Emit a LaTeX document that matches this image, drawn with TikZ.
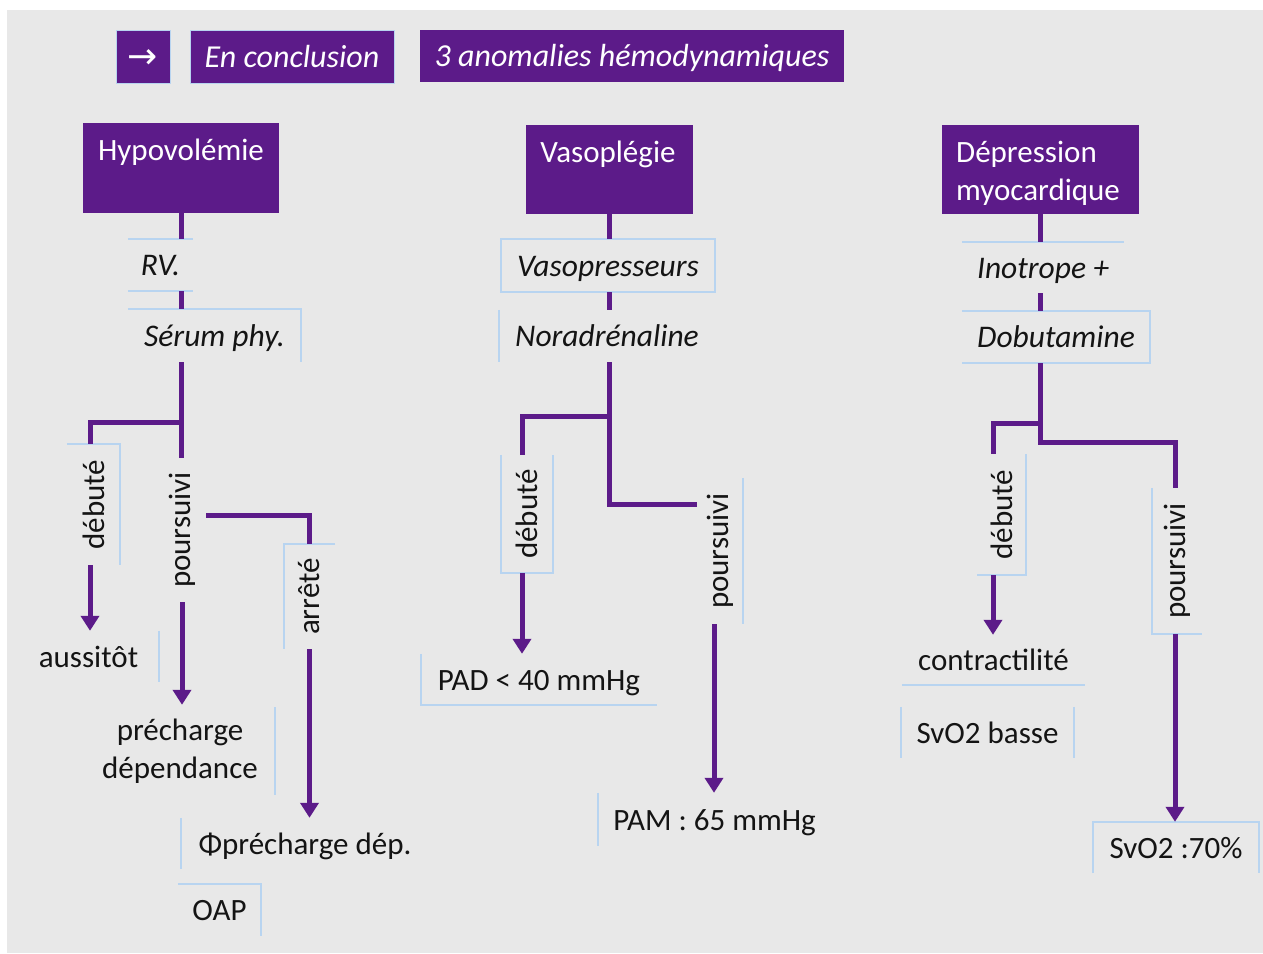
\documentclass[tikz,border=0pt]{standalone}
\usepackage{fontspec}
\usepackage{graphicx}
\setmainfont{Carlito}
\newfontfamily\symfont{DejaVu Sans}
\usetikzlibrary{arrows.meta}

\definecolor{violet1}{RGB}{92,27,137}
\definecolor{bgray}{RGB}{232,232,232}
\definecolor{lblue}{RGB}{184,212,240}
\definecolor{ink}{RGB}{20,20,20}

\tikzset{
  oneline/.style={text height=23pt, text depth=2pt},
  hdr/.style={fill=violet1, text=white, inner sep=0pt, oneline, font=\fontsize{32}{38}\selectfont\itshape},
  mainbox/.style={fill=violet1, inner sep=0pt},
  maintxt/.style={text=white, inner sep=0pt, font=\fontsize{31}{38}\selectfont},
  vlbl/.style={inner sep=0pt, text=ink, font=\fontsize{31}{38}\selectfont},
  lbl/.style={vlbl, oneline},
  lbli/.style={inner sep=0pt, oneline, text=ink, font=\fontsize{31.5}{38}\selectfont\itshape},
  lb/.style={draw=lblue, line width=1.5pt},
  conn/.style={draw=violet1, line width=5pt},
  arr/.style={conn, -{Triangle[width=18pt,length=15pt]}},
}

\begin{document}
\begin{tikzpicture}[x=1pt,y=-1pt]
% page and grey panel
\useasboundingbox (0,0) rectangle (1263,953);
\fill[white] (0,0) rectangle (1263,953);
\fill[bgray] (7,10) rectangle (1263,953);

% title bar
\node[fill=violet1, draw=lblue, line width=1pt, inner sep=0pt, minimum width=54, minimum height=53] (harrow) at (143,56.5) {};
\node[text=white, inner sep=0pt] (harrowt) at (143,59) {\symfont\fontsize{36}{38}\selectfont →};
\node[hdr, draw=lblue, line width=1pt, minimum width=204, minimum height=53] (hconc) at (292,56.5) {En conclusion};
\node[hdr, minimum width=424, minimum height=52] (hanom) at (632,56) {3 anomalies hémodynamiques};

% the three headings
\node[mainbox, minimum width=196, minimum height=90] (hypo) at (181,168) {};
\node[maintxt, oneline] (hypot) at (181,149.5) {Hypovolémie};
\node[mainbox, minimum width=167, minimum height=89] (vaso) at (609.5,169.5) {};
\node[maintxt, oneline] (vasot) at (608,151.5) {Vasoplégie};
\node[mainbox, minimum width=197, minimum height=89] (dep) at (1040.5,169.5) {};
\node[maintxt, align=left, anchor=west] (dept) at (956,173) {Dépression\\myocardique};

% column 1 : hypovolemia
\node[lbli, minimum width=65, minimum height=52] (rv) at (160.5,265) {RV.};
\node[lbli, minimum width=173, minimum height=53] (serum) at (214.5,335.5) {Sérum phy.};
\node[vlbl, minimum width=53, minimum height=121] (deb1) at (93.5,504.5) {\rotatebox{90}{débuté}};
\node[lbl, minimum width=141, minimum height=51] (auss) at (88.5,656.5) {aussitôt};
\node[vlbl, minimum width=48, minimum height=144] (pours1) at (182,530) {\rotatebox{90}{poursuivi}};
\node[vlbl, minimum width=51, minimum height=105] (arr1) at (309.5,596.5) {\rotatebox{90}{arrêté}};
\node[vlbl, align=center, minimum width=190, minimum height=87] (prech) at (180,751) {précharge\\dépendance};
\node[lbl, minimum width=248, minimum height=51] (phi) at (305,843.5) {Φprécharge dép.};
\node[lbl, minimum width=83, minimum height=52] (oap) at (219.5,910) {OAP};

% column 2 : vasoplegia
\node[lbli, minimum width=214, minimum height=53] (vasop) at (608,265.5) {Vasopresseurs};
\node[lbli, minimum width=216, minimum height=52] (norad) at (607,336) {Noradrénaline};
\node[vlbl, minimum width=52, minimum height=118] (deb2) at (527,514) {\rotatebox{90}{débuté}};
\node[lbl, minimum width=236, minimum height=51] (pad) at (539,679.5) {PAD < 40 mmHg};
\node[vlbl, minimum width=46, minimum height=146] (pours2) at (720,551) {\rotatebox{90}{poursuivi}};
\node[lbl, minimum width=233, minimum height=53] (pam) at (714.5,819.5) {PAM : 65 mmHg};

% column 3 : myocardial depression
\node[lbli, minimum width=162, minimum height=51] (ino) at (1043,267.5) {Inotrope +};
\node[lbli, minimum width=188, minimum height=52] (dobu) at (1056,337) {Dobutamine};
\node[vlbl, minimum width=49, minimum height=121] (deb3) at (1001.5,514.5) {\rotatebox{90}{débuté}};
\node[lbl, minimum width=183, minimum height=50] (contr) at (993.5,660) {contractilité};
\node[lbl, minimum width=173, minimum height=51] (svob) at (987.5,732.5) {SvO2 basse};
\node[vlbl, minimum width=50, minimum height=146] (pours3) at (1177,561) {\rotatebox{90}{poursuivi}};
\node[lbl, minimum width=166, minimum height=51] (svo70) at (1176,847.5) {SvO2 :70\%};

% partial frames of the text boxes
\draw[lb] (rv.north west) -- (rv.north east) (rv.south west) -- (rv.south east);
\draw[lb] (serum.north west) -- (serum.north east) -- (serum.south east);
\draw[lb] (deb1.north west) -- (deb1.north east) -- (deb1.south east);
\draw[lb] (auss.north east) -- (auss.south east);
\draw[lb] (arr1.north east) -- (arr1.north west) -- (arr1.south west);
\draw[lb] (prech.north east) -- (prech.south east);
\draw[lb] (phi.north west) -- (phi.south west);
\draw[lb] (oap.north west) -- (oap.north east) -- (oap.south east);
\draw[lb] (vasop.north west) rectangle (vasop.south east);
\draw[lb] (norad.north west) -- (norad.south west);
\draw[lb] (deb2.north west) -- (deb2.south west) -- (deb2.south east) -- (deb2.north east);
\draw[lb] (pad.north west) -- (pad.south west) -- (pad.south east);
\draw[lb] (pours2.north east) -- (pours2.south east);
\draw[lb] (pam.north west) -- (pam.south west);
\draw[lb] (ino.north west) -- (ino.north east);
\draw[lb] (dobu.north west) -- (dobu.north east) -- (dobu.south east) -- (dobu.south west);
\draw[lb] (deb3.north east) -- (deb3.south east) -- (deb3.south west);
\draw[lb] (contr.south west) -- (contr.south east);
\draw[lb] (svob.north west) -- (svob.south west) (svob.north east) -- (svob.south east);
\draw[lb] (pours3.north west) -- (pours3.south west) -- (pours3.south east);
\draw[lb] (svo70.south west) -- (svo70.north west) -- (svo70.north east) -- (svo70.south east);

% connectors, column 1
\coordinate (j1) at (181,422);
\draw[conn] (hypo.south) -- (hypo.south |- rv.north);
\draw[conn] (hypo.south |- rv.south) -- (hypo.south |- serum.north);
\draw[conn] (hypo.south |- serum.south) -- (hypo.south |- pours1.north);
\draw[conn] (j1) -| ([xshift=-3.5pt]deb1.north);
\draw[arr] ([xshift=-3.5pt]deb1.south) -- ([xshift=-3.5pt]deb1.south |- auss.north);
\draw[arr] (pours1.south) -- ([yshift=2.5pt]pours1.south |- prech.north);
\draw[conn] ([yshift=15pt]pours1.east) -| (arr1.north);
\draw[arr] (arr1.south) -- (arr1.south |- phi.north);

% connectors, column 2
\coordinate (j2) at (609.5,416);
\draw[conn] (vaso.south) -- (vaso.south |- vasop.north);
\draw[conn] (vaso.south |- vasop.south) -- (vaso.south |- norad.north);
\draw[conn] (vaso.south |- norad.south) |- ([yshift=47pt]pours2.west);
\draw[conn] (j2) -| ([xshift=-5pt]deb2.north);
\draw[arr] ([xshift=-5pt]deb2.south) -- ([xshift=-5pt]deb2.south |- pad.north);
\draw[arr] ([xshift=-6pt]pours2.south) -- ([xshift=-6pt]pours2.south |- pam.north);

% connectors, column 3
\coordinate (j3) at (1040.5,423);
\coordinate (j3b) at (1040.5,442);
\draw[conn] (dep.south) -- (dep.south |- ino.north);
\draw[conn] (dep.south |- ino.south) -- (dep.south |- dobu.north);
\draw[conn] (dep.south |- dobu.south) -- (j3b) -| ([xshift=-2pt]pours3.north);
\draw[conn] (j3) -| ([xshift=-8.5pt]deb3.north);
\draw[arr] ([xshift=-8.5pt]deb3.south) -- ([xshift=-8.5pt]deb3.south |- contr.north);
\draw[arr] ([xshift=-2pt]pours3.south) -- ([xshift=-2pt]pours3.south |- svo70.north);
\end{tikzpicture}
\end{document}
